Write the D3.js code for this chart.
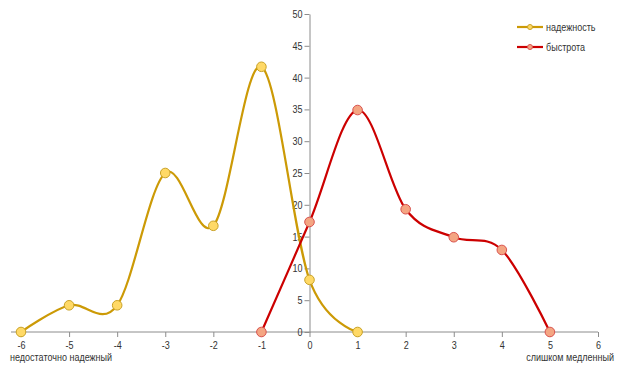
<!DOCTYPE html>
<html><head><meta charset="utf-8">
<script src="https://cdn.jsdelivr.net/npm/d3@7"></script>
<style>
body{margin:0;background:#fff;}
text{font-family:"Liberation Sans",Arial,sans-serif;fill:#333;}
</style></head>
<body><svg id="c" width="619" height="369"></svg>
<script>
const xTicks = [-6,-5,-4,-3,-2,-1,0,1,2,3,4,5,6];
const yTicks = [0,5,10,15,20,25,30,35,40,45,50];
const reliabilityX = [-6,-5,-4,-3,-2,-1,0,1];
const reliabilityY = [0,4.2,4.2,25,16.7,41.7,8.2,0];
const speedX = [-1,0,1,2,3,4,5];
const speedY = [0,17.3,34.9,19.3,14.9,12.9,0];
const seriesNames = ["надежность","быстрота"];
const leftLabel = "недостаточно надежный";
const rightLabel = "слишком медленный";

const svg = d3.select("#c");
const x = d3.scaleLinear().domain([-6,6]).range([21,598]);
const y = d3.scaleLinear().domain([0,50]).range([332,14]);
const axisColor = "#8c8c8c";
const fam = '"Liberation Sans",Arial,sans-serif';
const squeeze = 0.82;

// x axis
const xa = svg.append("g").attr("transform",`translate(0,${y(0)})`)
  .call(d3.axisBottom(x).tickValues(xTicks).tickSize(5).tickSizeOuter(0).tickFormat(d=>String(d)));
xa.select(".domain").attr("stroke",axisColor).attr("d",`M${x(-6)-10},0H${x(6)}`);
xa.selectAll(".tick line").attr("stroke",axisColor);
xa.selectAll(".tick text").attr("font-size",11).attr("dy","0.8em").attr("fill","#333");

// y axis
const ya = svg.append("g").attr("transform",`translate(${x(0)},0)`)
  .call(d3.axisLeft(y).tickValues(yTicks).tickSize(5).tickSizeOuter(0));
ya.select(".domain").attr("stroke",axisColor);
ya.selectAll(".tick line").attr("stroke",axisColor);
ya.selectAll(".tick text").attr("font-size",11).attr("fill","#333").attr("x",-7);
svg.selectAll("g text").attr("font-family",fam);

const line = d3.line().x(d=>x(d[0])).y(d=>y(d[1])).curve(d3.curveCardinal.tension(0));

const series = [
  {xs:reliabilityX, ys:reliabilityY, stroke:"#cc9a06", fill:"#ffd966", mstroke:"#c9a227"},
  {xs:speedX, ys:speedY, stroke:"#cc0000", fill:"#f4a582", mstroke:"#d9534f"}
];
series.forEach(s=>{
  const pts = s.xs.map((v,i)=>[v,s.ys[i]]);
  svg.append("path").attr("d",line(pts)).attr("fill","none").attr("stroke",s.stroke).attr("stroke-width",2.2);
  svg.selectAll(null).data(pts).enter().append("circle")
    .attr("cx",d=>x(d[0])).attr("cy",d=>y(d[1])).attr("r",4.8)
    .attr("fill",s.fill).attr("stroke",s.mstroke).attr("stroke-width",1);
});

// legend
seriesNames.forEach((n,i)=>{
  const ly = 27 + i*20;
  const s = series[i];
  svg.append("line").attr("x1",517).attr("x2",543).attr("y1",ly).attr("y2",ly).attr("stroke",s.stroke).attr("stroke-width",2.2);
  svg.append("circle").attr("cx",530).attr("cy",ly).attr("r",2.5).attr("fill",s.fill).attr("stroke",s.mstroke).attr("stroke-width",1);
  svg.append("text").attr("x",546).attr("y",ly).attr("dy","0.35em").attr("font-size",11).text(n);
});

svg.append("text").attr("x",10).attr("y",361).attr("font-size",11).text(leftLabel);
svg.append("text").attr("x",614).attr("y",361).attr("text-anchor","end").attr("font-size",11).text(rightLabel);

// condense text horizontally about its anchor point (narrow font look)
svg.selectAll("text").each(function(){
  const ax = +(this.getAttribute("x") || 0);
  d3.select(this).attr("transform", `translate(${ax*(1-squeeze)},0) scale(${squeeze},1)`);
});
</script></body></html>
